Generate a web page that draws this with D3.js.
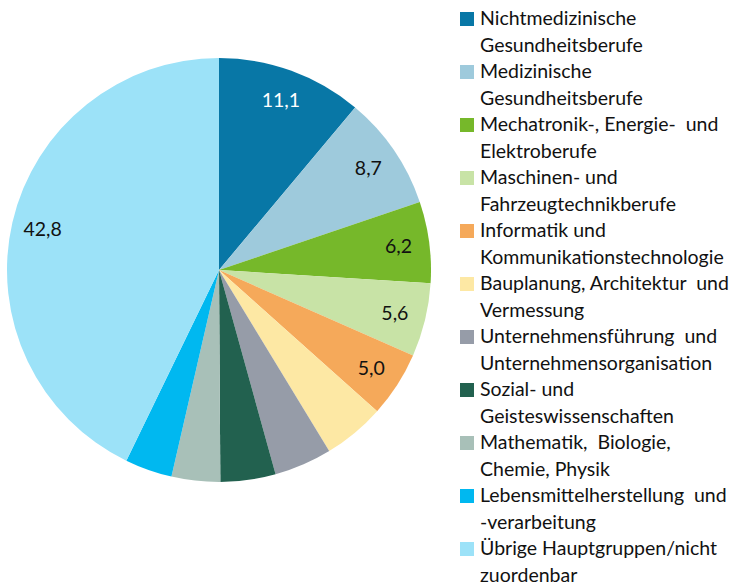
<!DOCTYPE html>
<html><head><meta charset="utf-8">
<script src="https://cdn.jsdelivr.net/npm/d3@7"></script>
<style>
html,body{margin:0;padding:0;background:#fff;}
svg{display:block;font-family:Lato, "Open Sans", sans-serif;}
</style></head>
<body>
<svg id="chart" width="751" height="584"></svg>
<script>
const categories = [
  ["Nichtmedizinische", "Gesundheitsberufe"],
  ["Medizinische", "Gesundheitsberufe"],
  ["Mechatronik-, Energie-  und", "Elektroberufe"],
  ["Maschinen- und", "Fahrzeugtechnikberufe"],
  ["Informatik und", "Kommunikationstechnologie"],
  ["Bauplanung, Architektur  und", "Vermessung"],
  ["Unternehmensführung  und", "Unternehmensorganisation"],
  ["Sozial- und", "Geisteswissenschaften"],
  ["Mathematik,  Biologie,", "Chemie, Physik"],
  ["Lebensmittelherstellung  und", "-verarbeitung"],
  ["Übrige Hauptgruppen/nicht", "zuordenbar"]
];
const values = [11.1, 8.7, 6.2, 5.6, 5.0, 4.7, 4.4, 4.2, 3.7, 3.6, 42.8];
const showLabel = [true, true, true, true, true, false, false, false, false, false, true];
const colors = ["#0877a6", "#9ecadc", "#76b82a", "#c8e3a6", "#f5a95a", "#fde8a4",
                "#969ca8", "#22614f", "#a8c0b8", "#00b8f0", "#9ce2f8"];
const labelColors = ["#ffffff", "#111111", "#111111", "#111111", "#111111", "#111111",
                     "#111111", "#111111", "#111111", "#111111", "#111111"];

const svg = d3.select("#chart");
const cx = 219, cy = 270, r = 212, labelR = 181;
const locale = d3.formatLocale({decimal: ",", thousands: ".", grouping: [3], currency: ["", " €"]});
const fmt = locale.format(".1f");

const data = values.map((v, i) => ({v, i}));
const pie = d3.pie().value(d => d.v).sort(null);
const arc = d3.arc().innerRadius(0).outerRadius(r);
const labelArc = d3.arc().innerRadius(labelR).outerRadius(labelR);
const color = d3.scaleOrdinal().domain(d3.range(values.length)).range(colors);

const g = svg.append("g").attr("transform", `translate(${cx},${cy})`);
const arcs = pie(data);
g.selectAll("path").data(arcs).join("path")
  .attr("d", arc).attr("fill", d => color(d.data.i));

g.selectAll("text.lbl").data(arcs.filter(d => showLabel[d.data.i])).join("text")
  .attr("class", "lbl")
  .attr("transform", d => `translate(${labelArc.centroid(d)})`)
  .attr("text-anchor", "middle").attr("dy", "0.35em")
  .attr("font-size", 19.5)
  .attr("fill", d => labelColors[d.data.i])
  .text(d => fmt(d.data.v));

// legend
const lx = 460, ly0 = 25, itemStep = 53, lineStep = 26.5;
const leg = svg.append("g");
const items = leg.selectAll("g").data(categories).join("g")
  .attr("transform", (d, i) => `translate(${lx},${ly0 + i * itemStep})`);
items.append("rect").attr("x", 0).attr("y", -13).attr("width", 14).attr("height", 14)
  .attr("fill", (d, i) => colors[i]);
items.each(function(lines) {
  const t = d3.select(this);
  lines.forEach((line, k) => {
    t.append("text").attr("x", 20).attr("y", k * lineStep)
      .attr("font-size", 19.5).attr("fill", "#111")
      .attr("xml:space", "preserve").style("white-space", "pre")
      .text(line);
  });
});
</script>
</body></html>
